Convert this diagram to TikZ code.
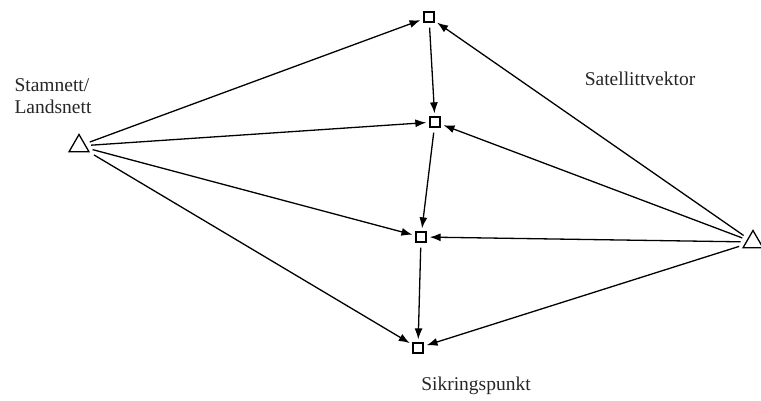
\documentclass[tikz,border=0pt]{standalone}
\usepackage{fontspec}
\setmainfont{Liberation Serif}
\usetikzlibrary{shapes.geometric,arrows.meta}
\begin{document}
\begin{tikzpicture}[x=1pt,y=-1pt,
  pt/.style={draw,line width=1.3pt,minimum size=10pt,inner sep=0pt},
  tri/.style={draw,line width=1.3pt,regular polygon,regular polygon sides=3,minimum size=23pt,inner sep=0pt},
  arr/.style={line width=1.3pt,-{Latex[length=11pt,width=8pt]},shorten >=3pt,shorten <=5pt},
  lbl/.style={font=\fontsize{19.5}{22}\selectfont,text=black!85,inner sep=0pt}]
\useasboundingbox (0,0) rectangle (761,401);
\node[tri] (L) at (79,146) {};
\node[tri] (R) at (753,242) {};
\node[pt] (A) at (429,17) {};
\node[pt] (B) at (435,122) {};
\node[pt] (C) at (421,237) {};
\node[pt] (D) at (418,348) {};
\node[lbl,align=left] (lt) at (53,96) {Stamnett/\\Landsnett};
\node[lbl] (rt) at (640,79) {Satellittvektor};
\node[lbl] (bt) at (476,386) {Sikringspunkt};
\foreach \t in {A,B,C,D} {
  \draw[arr] (L) -- (\t);
  \draw[arr] (R) -- (\t);
}
\draw[arr] (A) -- (B);
\draw[arr] (B) -- (C);
\draw[arr] (C) -- (D);
\end{tikzpicture}
\end{document}
